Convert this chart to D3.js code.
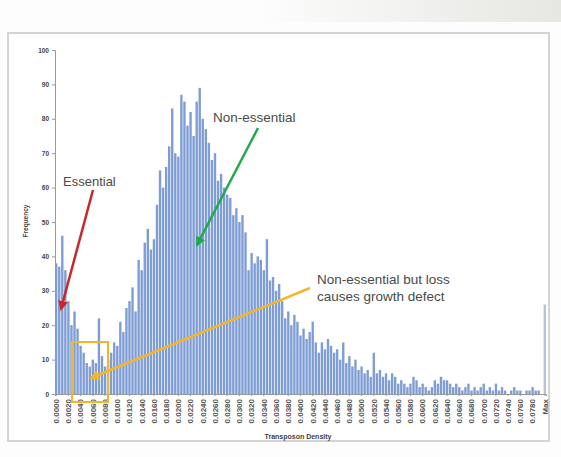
<!DOCTYPE html>
<html><head><meta charset="utf-8">
<script src="https://cdn.jsdelivr.net/npm/d3@7"></script>
<style>body{margin:0;background:#fdfdfd;} svg{display:block;}</style>
</head><body><svg id="c" width="561" height="457"></svg>
<script>
// Histogram frequencies per transposon-density bin (160 bins) + overflow "Max" bin
const frequencies = [
 38,37,46,36,27,20,24,19,14,12, 9, 8,10, 9,22,11, 8,10,12,15,
 14,21,18,25,27,31,24,39,36,44,48,42,45,55,65,60,66,72,83,70,
 69,87,85,78,82,75,85,89,80,77,73,68,70,62,64,60,58,57,52,54,
 50,52,47,36,41,38,40,39,36,45,33,34,30,32,27,22,24,20,23,21,
 17,19,16,18,21,15,12,15,13,16,14,12,13,10,15, 9,11, 8,10, 7,
  8, 6, 7, 5,12, 6, 7, 5, 6, 4, 6, 5, 3, 4, 3, 2, 3, 5, 4, 2,
  3, 2, 1, 2, 4, 3, 5, 4, 4, 3, 2, 3, 2, 1, 2, 3, 1, 2, 1, 2,
  3, 1, 2, 1, 3, 1, 2, 1, 0, 1, 2, 1, 1, 0, 1, 1, 2, 1, 1, 0
];
const maxBinFrequency = 26;
const tickLabels = [
 "0.0000","0.0020","0.0040","0.0060","0.0080","0.0100","0.0120","0.0140","0.0160","0.0180",
 "0.0200","0.0220","0.0240","0.0260","0.0280","0.0300","0.0320","0.0340","0.0360","0.0380",
 "0.0400","0.0420","0.0440","0.0460","0.0480","0.0500","0.0520","0.0540","0.0560","0.0580",
 "0.0600","0.0620","0.0640","0.0660","0.0680","0.0700","0.0720","0.0740","0.0760","0.0780","Max"
];
const yTicks = [0,10,20,30,40,50,60,70,80,90,100];
const labelEvery = 4;

const svg = d3.select("#c");
const W = 561, H = 457;

// top-right grey sheen and frame
const defs = svg.append("defs");
const g1 = defs.append("linearGradient").attr("id","sheen").attr("x1","0").attr("x2","1");
g1.append("stop").attr("offset","0.45").attr("stop-color","#fdfdfd");
g1.append("stop").attr("offset","1").attr("stop-color","#e6e6e2");
svg.append("rect").attr("x",0).attr("y",0).attr("width",W).attr("height",22).attr("fill","url(#sheen)");
svg.append("rect").attr("x",8).attr("y",33).attr("width",541).attr("height",408)
  .attr("fill","#ffffff").attr("stroke","#d4d4d4").attr("stroke-width",2);

const cats = d3.range(frequencies.length + 1);
const values = frequencies.concat([maxBinFrequency]);
const x = d3.scaleBand().domain(cats).range([55, 546]).paddingInner(0.22).paddingOuter(0);
const y = d3.scaleLinear().domain([0, 100]).range([394, 50]);

// bars
svg.append("g").selectAll("rect").data(values).join("rect")
  .attr("x", (d,i) => x(i))
  .attr("width", x.bandwidth())
  .attr("y", d => y(d))
  .attr("height", d => y(0) - y(d))
  .attr("fill", (d,i) => i === values.length-1 ? "#b9c2d4" : "#7f9dd5");

// y axis
const ya = svg.append("g").attr("transform","translate(55,0)")
  .call(d3.axisLeft(y).tickValues(yTicks).tickSize(3).tickPadding(3));
ya.select(".domain").attr("stroke","#9a9a9a");
ya.selectAll(".tick line").attr("stroke","#9a9a9a");
ya.selectAll("text").attr("font-family","Liberation Sans, Arial, sans-serif")
  .attr("font-size",6.5).attr("font-weight","bold").attr("fill","#444");

// x axis
const tickCats = cats.filter(i => i % labelEvery === 0);
const xa = svg.append("g").attr("transform","translate(0,394)")
  .call(d3.axisBottom(x).tickValues(tickCats).tickSize(2)
    .tickFormat(i => tickLabels[i / labelEvery]));
xa.select(".domain").attr("stroke","#9a9a9a");
xa.selectAll(".tick line").attr("stroke","#9a9a9a");
xa.selectAll("text")
  .attr("font-family","Liberation Sans, Arial, sans-serif")
  .attr("font-size",8).attr("font-weight","bold").attr("fill","#555")
  .attr("transform","rotate(-90)")
  .attr("text-anchor","end").attr("x",-5).attr("y",0).attr("dy","0.35em");

// axis titles
svg.append("text").attr("x",298).attr("y",439).attr("text-anchor","middle")
  .attr("font-family","Liberation Sans, Arial, sans-serif").attr("font-size",7)
  .attr("font-weight","bold").attr("fill","#444").text("Transposon Density");
svg.append("text").attr("transform","translate(28,221) rotate(-90)").attr("text-anchor","middle")
  .attr("font-family","Liberation Sans, Arial, sans-serif").attr("font-size",6.5)
  .attr("font-weight","bold").attr("fill","#444").text("Frequency");

// annotations
function marker(id, color){
  defs.append("marker").attr("id",id).attr("viewBox","0 0 10 10").attr("refX",8).attr("refY",5)
    .attr("markerWidth",4).attr("markerHeight",4).attr("orient","auto-start-reverse")
    .append("path").attr("d","M0,0L10,5L0,10z").attr("fill",color);
}
marker("mr","#c8272c"); marker("mg","#23a84b"); marker("my","#f2b52b");

const font = "Liberation Sans, Arial, sans-serif";
svg.append("text").attr("x",63).attr("y",186).attr("font-family",font).attr("font-size",13)
  .attr("fill","#4a4a4a").text("Essential");
svg.append("line").attr("x1",93).attr("y1",190).attr("x2",61).attr("y2",309)
  .attr("stroke","#c8272c").attr("stroke-width",2.5).attr("marker-end","url(#mr)");

svg.append("text").attr("x",213).attr("y",122).attr("font-family",font).attr("font-size",13.5)
  .attr("fill","#4a4a4a").text("Non-essential");
svg.append("line").attr("x1",258).attr("y1",128).attr("x2",197).attr("y2",245)
  .attr("stroke","#23a84b").attr("stroke-width",2.5).attr("marker-end","url(#mg)");

svg.append("text").attr("x",317).attr("y",284).attr("font-family",font).attr("font-size",13.5)
  .attr("fill","#4a4a4a").text("Non-essential but loss");
svg.append("text").attr("x",317).attr("y",301).attr("font-family",font).attr("font-size",13.5)
  .attr("fill","#4a4a4a").text("causes growth defect");
svg.append("line").attr("x1",310).attr("y1",288).attr("x2",91).attr("y2",378)
  .attr("stroke","#f2b52b").attr("stroke-width",2.5).attr("marker-end","url(#my)");
svg.append("rect").attr("x",72).attr("y",342).attr("width",36).attr("height",60)
  .attr("fill","none").attr("stroke","#f2b52b").attr("stroke-width",2);
</script></body></html>
